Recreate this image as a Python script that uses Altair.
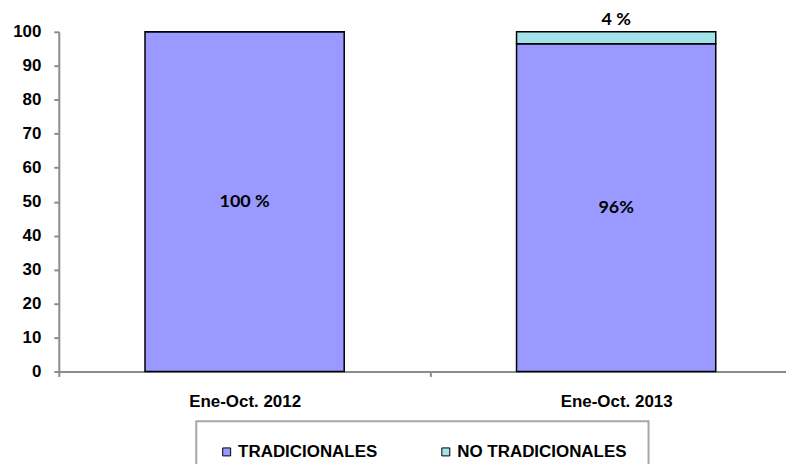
import altair as alt
import pandas as pd

periods = ["Ene-Oct. 2012", "Ene-Oct. 2013"]
series = ["TRADICIONALES", "NO TRADICIONALES"]
tradicionales = [100.0, 96.5]
no_tradicionales = [0.0, 3.5]
labels_trad = ["100 %", "96%"]
labels_no_trad = ["", "4 %"]
colors = ["#9999FF", "#A3E2E8"]

rows = []
for i, p in enumerate(periods):
    rows.append({"periodo": p, "serie": series[0], "valor": tradicionales[i], "orden": 0})
    rows.append({"periodo": p, "serie": series[1], "valor": no_tradicionales[i], "orden": 1})
df = pd.DataFrame(rows)

lab_rows = []
for i, p in enumerate(periods):
    lab_rows.append({"periodo": p, "pos": tradicionales[i] / 2, "texto": labels_trad[i], "tipo": "in"})
    if labels_no_trad[i]:
        lab_rows.append({"periodo": p, "pos": tradicionales[i] + no_tradicionales[i], "texto": labels_no_trad[i], "tipo": "top"})
lab = pd.DataFrame(lab_rows)

xscale = alt.Scale(domain=periods, paddingInner=0.4638, paddingOuter=0.2105, align=0.551)
xaxis = alt.Axis(title=None, labelAngle=0, labelFont="Liberation Sans", labelFontWeight="bold",
                 labelFontSize=17, labelColor="black", labelPadding=17,
                 domainColor="#8c8c8c", domainWidth=2, tickColor="#8c8c8c", tickWidth=2,
                 tickSize=5, tickOffset=-186.5, labelOffset=186.5)
yscale = alt.Scale(domain=[0, 100], nice=False)
yaxis = alt.Axis(title=None, values=list(range(0, 101, 10)), grid=False, labelOverlap=False,
                 labelFont="Liberation Sans", labelFontWeight="bold", labelFontSize=17,
                 labelColor="black", labelPadding=13, domainColor="#8c8c8c", domainWidth=2,
                 tickColor="#8c8c8c", tickWidth=2, tickSize=5)

bars = alt.Chart(df).mark_bar(stroke="black", strokeWidth=1.5).encode(
    x=alt.X("periodo:N", scale=xscale, axis=xaxis, sort=periods),
    y=alt.Y("valor:Q", stack="zero", scale=yscale, axis=yaxis),
    color=alt.Color("serie:N", scale=alt.Scale(domain=series, range=colors),
                    legend=alt.Legend(title=None, orient="none", legendX=138, legendY=391,
                                      direction="horizontal", columns=2, padding=22,
                                      strokeColor="#a6a6a6",
                                      symbolType="square", symbolSize=64,
                                      symbolStrokeColor="black", symbolStrokeWidth=1,
                                      labelFont="Liberation Sans", labelFontWeight="bold",
                                      labelFontSize=17, labelColor="black", labelOffset=3,
                                      labelLimit=400, columnPadding=60)),
    order=alt.Order("orden:Q"),
)

text_in = alt.Chart(lab).transform_filter(alt.datum.tipo == "in").mark_text(
    font="Lato", fontWeight="bold", fontSize=18, color="black"
).encode(
    x=alt.X("periodo:N", scale=xscale, axis=xaxis, sort=periods),
    y=alt.Y("pos:Q", scale=yscale, axis=yaxis),
    text="texto:N",
)
text_top = alt.Chart(lab).transform_filter(alt.datum.tipo == "top").mark_text(
    font="Lato", fontWeight="bold", fontSize=18, color="black", dy=-12
).encode(
    x=alt.X("periodo:N", scale=xscale, axis=xaxis, sort=periods),
    y=alt.Y("pos:Q", scale=yscale, axis=yaxis),
    text="texto:N",
)

chart = alt.layer(bars, text_in, text_top).properties(
    width=730, height=341,
    autosize=alt.AutoSizeParams(type="none"),
    padding={"left": 51, "top": 23, "right": 0, "bottom": 92},
).configure_view(stroke=None).configure_legend(strokeWidth=2)

chart.save("out.html", embed_options={"renderer": "svg", "actions": False})
